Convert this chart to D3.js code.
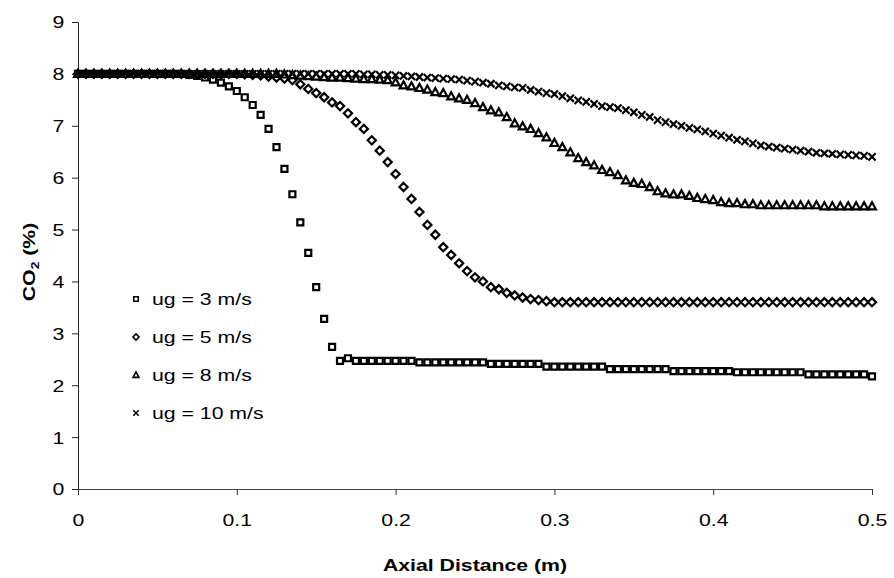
<!DOCTYPE html>
<html>
<head>
<meta charset="utf-8">
<script src="https://cdn.jsdelivr.net/npm/d3@7"></script>
<style>
  html, body { margin: 0; padding: 0; background: #fff; }
  svg { display: block; font-family: "Liberation Sans", Arial, sans-serif; }
</style>
</head>
<body>
<svg id="chart" width="894" height="578"></svg>
<script>
// Sampling grid along the column (m), 0.005 m step
const axialDistance = d3.range(0, 101).map(i => +(i * 0.005).toFixed(3));

// CO2 concentration (%) for each superficial gas velocity
const co2_ug3 = [
  8.00, 8.00, 8.00, 8.00, 8.00, 8.00, 8.00, 8.00, 8.00, 8.00,
  8.00, 8.00, 8.00, 8.00,
  7.98, 7.96, 7.93, 7.89, 7.83, 7.76, 7.67, 7.55, 7.40, 7.21,
  6.94, 6.59, 6.17, 5.68, 5.14, 4.55, 3.89, 3.28, 2.74, 2.47, 2.52,
  2.47, 2.47, 2.47, 2.47, 2.47, 2.47, 2.47, 2.47,
  2.44, 2.44, 2.44, 2.44, 2.44, 2.44, 2.44, 2.44, 2.44,
  2.41, 2.41, 2.41, 2.41, 2.41, 2.41, 2.41,
  2.36, 2.36, 2.36, 2.36, 2.36, 2.36, 2.36, 2.36,
  2.31, 2.31, 2.31, 2.31, 2.31, 2.31, 2.31, 2.31,
  2.27, 2.27, 2.27, 2.27, 2.27, 2.27, 2.27, 2.27,
  2.25, 2.25, 2.25, 2.25, 2.25, 2.25, 2.25, 2.25, 2.25,
  2.21, 2.21, 2.21, 2.21, 2.21, 2.21, 2.21, 2.21,
  2.17
];

const co2_ug5 = [
  8.00, 8.00, 8.00, 8.00, 8.00, 8.00, 8.00, 8.00, 8.00, 8.00,
  8.00, 8.00, 8.00, 8.00, 8.00, 8.00, 8.00, 8.00, 8.00, 8.00, 8.00,
  7.99, 7.98, 7.97, 7.95, 7.93, 7.91,
  7.88, 7.80, 7.71, 7.63, 7.55, 7.45, 7.38, 7.24, 7.07, 6.94,
  6.72, 6.52, 6.30, 6.07, 5.82, 5.59, 5.34, 5.09, 4.90, 4.66,
  4.51, 4.35, 4.20, 4.08, 4.00, 3.89, 3.85, 3.78, 3.73, 3.69,
  3.66, 3.64, 3.62,
  3.60, 3.60, 3.60, 3.60, 3.60, 3.60, 3.60, 3.60, 3.60, 3.60,
  3.60, 3.60, 3.60, 3.60, 3.60, 3.60, 3.60, 3.60, 3.60, 3.60,
  3.60, 3.60, 3.60, 3.60, 3.60, 3.60, 3.60, 3.60, 3.60, 3.60,
  3.60, 3.60, 3.60, 3.60, 3.60, 3.60, 3.60, 3.60, 3.60, 3.60,
  3.60
];

const co2_ug8 = [
  8.00, 8.00, 8.00, 8.00, 8.00, 8.00, 8.00, 8.00, 8.00, 8.00,
  8.00, 8.00, 8.00, 8.00, 8.00, 8.00, 8.00, 8.00, 8.00, 8.00,
  8.00, 8.00, 8.00, 8.00, 8.00, 8.00,
  7.99, 7.98, 7.97, 7.96, 7.95, 7.94, 7.93, 7.93, 7.92, 7.91,
  7.90, 7.90, 7.89,
  7.88, 7.84, 7.78, 7.76, 7.73, 7.70, 7.65, 7.63, 7.57, 7.53,
  7.50, 7.44, 7.36, 7.30, 7.26, 7.17, 7.05, 6.99, 6.94, 6.86,
  6.78, 6.67, 6.59, 6.49, 6.38, 6.30, 6.24, 6.15, 6.11, 6.05,
  5.95, 5.90, 5.88, 5.82, 5.74, 5.70, 5.68, 5.68, 5.65, 5.61,
  5.59, 5.57, 5.53, 5.51, 5.51, 5.49, 5.49, 5.47,
  5.47, 5.47, 5.47, 5.47, 5.47, 5.47, 5.47,
  5.45, 5.45, 5.45, 5.45, 5.45, 5.45, 5.45
];

const co2_ug10 = [
  8.00, 8.00, 8.00, 8.00, 8.00, 8.00, 8.00, 8.00, 8.00, 8.00,
  8.00, 8.00, 8.00, 8.00, 8.00, 8.00, 8.00, 8.00, 8.00, 8.00,
  8.00, 8.00, 8.00, 8.00, 8.00, 8.00, 8.00, 8.00, 8.00, 8.00,
  8.00, 8.00, 8.00, 8.00, 8.00, 8.00,
  7.99, 7.99, 7.98, 7.98, 7.97, 7.96, 7.95, 7.94, 7.93, 7.92,
  7.91, 7.90, 7.89, 7.87, 7.85, 7.83, 7.81, 7.78, 7.76, 7.74,
  7.73, 7.69, 7.66, 7.63, 7.61, 7.57, 7.53, 7.49, 7.46, 7.42,
  7.38, 7.36, 7.34, 7.30, 7.26, 7.21, 7.17, 7.11, 7.07, 7.03,
  7.00, 6.96, 6.93, 6.89, 6.85, 6.81, 6.77, 6.73, 6.70, 6.66,
  6.62, 6.60, 6.58, 6.56, 6.54, 6.52, 6.50, 6.48, 6.47, 6.46,
  6.45, 6.44, 6.43, 6.42, 6.40
];

const seriesNames = ["ug = 3 m/s", "ug = 5 m/s", "ug = 8 m/s", "ug = 10 m/s"];
const seriesShapes = ["square", "diamond", "triangle", "cross"];
const seriesValues = [co2_ug3, co2_ug5, co2_ug8, co2_ug10];

const xTicks = [0, 0.1, 0.2, 0.3, 0.4, 0.5];
const yTicks = [0, 1, 2, 3, 4, 5, 6, 7, 8, 9];

const xTitle = "Axial Distance (m)";

// ---- layout ----
const svg = d3.select("#chart");
const plot = { left: 78, right: 872, top: 22, bottom: 489 };
const STRETCH = 1.25;   // the typeface is set a little wide

const x = d3.scaleLinear().domain([0, 0.5]).range([plot.left, plot.right]);
const y = d3.scaleLinear().domain([0, 9]).range([plot.bottom, plot.top]);

// Marker outlines, centred on (0,0)
function markerPath(shape, s) {
  const p = d3.path();
  if (shape === "square") {
    const h = 3.0 * s;
    p.rect(-h, -h, 2 * h, 2 * h);
  } else if (shape === "diamond") {
    const h = 4.1 * s;
    p.moveTo(0, -h); p.lineTo(h, 0); p.lineTo(0, h); p.lineTo(-h, 0); p.closePath();
  } else if (shape === "triangle") {
    const w = 3.9 * s, t = 4.0 * s, b = 3.1 * s;
    p.moveTo(0, -t); p.lineTo(w, b); p.lineTo(-w, b); p.closePath();
  } else {
    const h = 3.6 * s;
    p.moveTo(-h, -h); p.lineTo(h, h); p.moveTo(h, -h); p.lineTo(-h, h);
  }
  return p.toString();
}

// ---- axes ----
const yAxis = svg.append("g")
  .attr("transform", `translate(${plot.left},0)`)
  .call(d3.axisLeft(y).tickValues(yTicks).tickSize(6).tickFormat(d3.format("d")));
yAxis.select(".domain").attr("stroke", "#222").attr("stroke-width", 1);
yAxis.selectAll(".tick line").attr("stroke", "#222");
yAxis.selectAll(".tick text")
  .attr("x", -11)
  .attr("dy", "0.35em")
  .attr("transform", `scale(${STRETCH},1)`)
  .attr("font-size", 17)
  .attr("font-family", "'Liberation Sans', Arial, sans-serif")
  .attr("fill", "#000");

const xAxis = svg.append("g")
  .attr("transform", `translate(0,${plot.bottom})`)
  .call(d3.axisBottom(x).tickValues(xTicks).tickSize(6).tickFormat(d => d === 0 ? "0" : d3.format(".1f")(d)));
xAxis.select(".domain").attr("stroke", "#444").attr("stroke-width", 1);
xAxis.selectAll(".tick line").attr("stroke", "#333");
xAxis.selectAll(".tick text")
  .attr("y", 37)
  .attr("dy", 0)
  .attr("transform", `scale(${STRETCH},1)`)
  .attr("font-size", 17)
  .attr("font-family", "'Liberation Sans', Arial, sans-serif")
  .attr("fill", "#000");

// axis titles
svg.append("text")
  .attr("transform", `translate(${(plot.left + plot.right) / 2},571) scale(${STRETCH},1)`)
  .attr("text-anchor", "middle")
  .attr("font-size", 17)
  .attr("font-weight", "bold")
  .text(xTitle);

const yTitle = svg.append("text")
  .attr("transform", `translate(35,262) rotate(-90) scale(${STRETCH},1)`)
  .attr("text-anchor", "middle")
  .attr("font-size", 17)
  .attr("font-weight", "bold");
yTitle.append("tspan").text("CO");
yTitle.append("tspan").attr("font-size", 11).attr("dy", 4).text("2");
yTitle.append("tspan").attr("dy", -4).text(" (%)");

// ---- data markers ----
seriesValues.forEach((vals, k) => {
  const pts = vals.map((v, i) => ({ d: axialDistance[i], v }));
  svg.append("g")
    .selectAll("path")
    .data(pts)
    .join("path")
    .attr("transform", p => `translate(${x(p.d)},${y(p.v)})`)
    .attr("d", markerPath(seriesShapes[k], 1))
    .attr("fill", seriesShapes[k] === "cross" ? "none" : "#fff")
    .attr("stroke", "#000")
    .attr("stroke-width", 2.2);
});

// ---- legend ----
const legend = svg.append("g");
seriesNames.forEach((name, k) => {
  const cy = 299 + k * 38;
  legend.append("path")
    .attr("transform", `translate(136,${cy})`)
    .attr("d", markerPath(seriesShapes[k], 0.75))
    .attr("fill", seriesShapes[k] === "cross" ? "none" : "#fff")
    .attr("stroke", "#000")
    .attr("stroke-width", 1.6);
  legend.append("text")
    .attr("transform", `translate(152,${cy + 6}) scale(${STRETCH},1)`)
    .attr("font-size", 17)
    .text(name);
});
</script>
</body>
</html>
